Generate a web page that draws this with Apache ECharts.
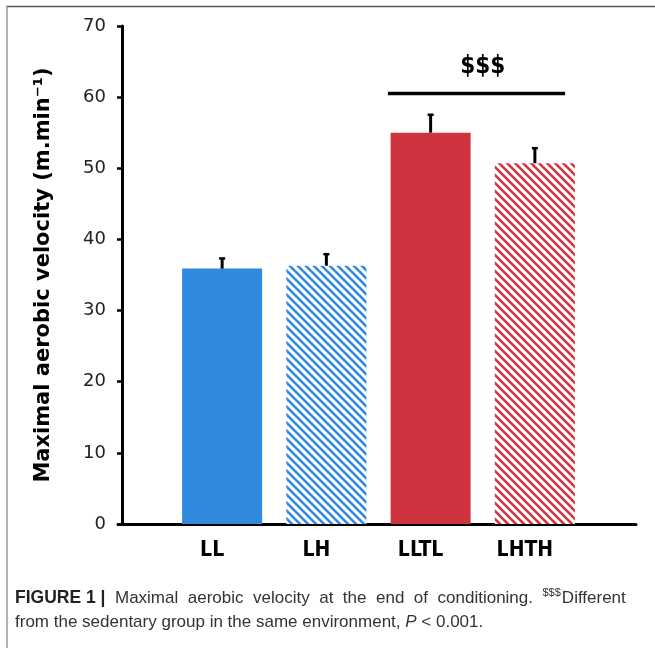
<!DOCTYPE html>
<html>
<head>
<meta charset="utf-8">
<script src="https://cdn.jsdelivr.net/npm/echarts@6/dist/echarts.min.js"></script>
<style>
  html, body { margin: 0; padding: 0; background: #fff; }
  #chart { width: 655px; height: 648px; }
</style>
</head>
<body>
<div id="chart"></div>
<script>
// groups and values
var groups = ['LL', 'LH', 'LLTL', 'LHTH'];
var means = [35.9, 36.3, 55.0, 50.7];
var errors = [1.6, 1.8, 2.7, 2.3];
var hatched = [false, true, false, true];
var groupColors = ['#2f89dc', '#2f89dc', '#cf333f', '#cf333f'];
var yTicks = [0, 10, 20, 30, 40, 50, 60, 70];
// significance bracket: from group index, to group index, level, label
var sigFrom = [2];
var sigTo = [3];
var sigLevel = [60.5];
var sigLabel = ['$$$'];

function hatch(color) {
    var n = 8;
    var c = document.createElement('canvas');
    c.width = n;
    c.height = n;
    var ctx = c.getContext('2d');
    ctx.fillStyle = '#fff';
    ctx.fillRect(0, 0, n, n);
    ctx.strokeStyle = color;
    ctx.lineWidth = 2.6;
    for (var k = -1; k <= 1; k++) {
        ctx.beginPath();
        ctx.moveTo(k * n - 1, -1);
        ctx.lineTo(k * n + n + 1, n + 1);
        ctx.stroke();
    }
    return {image: c, repeat: 'repeat'};
}

var barData = means.map(function (v, i) {
    return {
        value: v,
        itemStyle: {color: hatched[i] ? hatch(groupColors[i]) : groupColors[i]}
    };
});
var errData = means.map(function (v, i) {
    return [i, v, v + errors[i]];
});
var sigData = sigFrom.map(function (f, i) {
    return [f, sigTo[i], sigLevel[i]];
});

// first caption line is justified in the figure, so its spaces are wider
var line1 = 'Maximal aerobic velocity at the end of conditioning.'.split(' ').join('{w| }');
var caption = '{b|FIGURE 1 |}{w| }' + line1 + '{w| }{s|$$$}Different\n' +
    'from the sedentary group in the same environment, {i|P} < 0.001.';

var chart = echarts.init(document.getElementById('chart'));
chart.setOption({
    animation: false,
    backgroundColor: '#fff',
    textStyle: {fontFamily: 'DejaVu Sans'},
    title: {
        left: 15,
        top: 586,
        padding: 0,
        text: caption,
        textStyle: {
            fontFamily: 'Liberation Sans',
            fontSize: 17,
            fontWeight: 'normal',
            color: '#333',
            lineHeight: 24,
            rich: {
                b: {fontFamily: 'Liberation Sans', fontSize: 17.5, fontWeight: 'bold', color: '#222', lineHeight: 24},
                w: {fontFamily: 'Liberation Sans', fontSize: 17, width: 9.5, lineHeight: 24},
                s: {fontFamily: 'Liberation Sans', fontSize: 11, color: '#333', padding: [0, 1, 10, 0], lineHeight: 24},
                i: {fontFamily: 'Liberation Sans', fontSize: 17, fontStyle: 'italic', color: '#333', lineHeight: 24}
            }
        }
    },
    graphic: [
        {type: 'line', shape: {x1: 6, y1: 6.5, x2: 655, y2: 6.5}, style: {stroke: '#555', lineWidth: 1.5}},
        {type: 'line', shape: {x1: 7, y1: 6, x2: 7, y2: 648}, style: {stroke: '#999', lineWidth: 1.5}}
    ],
    grid: [
        {left: 118, right: 19, top: 26, bottom: 124},
        {left: 170, width: 417, top: 26, bottom: 124},
        {left: 122, right: 19, top: 26, bottom: 124}
    ],
    xAxis: [
        {
            gridIndex: 0, type: 'value', min: 0, max: 1,
            axisLine: {show: true, lineStyle: {color: '#000', width: 3}},
            axisTick: {show: false}, axisLabel: {show: false}, splitLine: {show: false}
        },
        {
            gridIndex: 1, type: 'category', data: groups,
            axisLine: {show: false}, axisTick: {show: false},
            axisLabel: {
                margin: 16,
                padding: [0, 20, 0, 0],
                fontFamily: 'DejaVu Sans Condensed',
                fontWeight: 'bold',
                fontSize: 21,
                color: '#000'
            }
        },
        {
            gridIndex: 2, type: 'value', min: 0, max: 1, show: false
        }
    ],
    yAxis: [
        {
            gridIndex: 0, type: 'value', min: 0, max: 70, show: false
        },
        {
            gridIndex: 1, type: 'value', min: 0, max: 70, show: false
        },
        {
            gridIndex: 2, type: 'value', min: 0, max: 70, interval: 10,
            name: 'Maximal aerobic velocity (m.min\u207B\u00B9)',
            nameLocation: 'middle',
            nameGap: 68,
            nameTextStyle: {fontFamily: 'DejaVu Sans', fontWeight: 'bold', fontSize: 21, color: '#000'},
            axisLine: {show: true, lineStyle: {color: '#000', width: 3}},
            axisTick: {show: true, length: 5, lineStyle: {color: '#000', width: 2.5}},
            axisLabel: {
                margin: 16, fontSize: 18, color: '#222',
                formatter: function (v) { return yTicks.indexOf(v) >= 0 ? String(v) : ''; }
            },
            splitLine: {show: false}
        }
    ],
    series: [
        {
            type: 'bar',
            xAxisIndex: 1, yAxisIndex: 1,
            barWidth: 80,
            data: barData
        },
        {
            type: 'custom',
            xAxisIndex: 1, yAxisIndex: 1,
            data: errData,
            z: 5,
            renderItem: function (params, api) {
                var base = api.coord([api.value(0), api.value(1)]);
                var top = api.coord([api.value(0), api.value(2)]);
                return {
                    type: 'group',
                    children: [
                        {type: 'line', shape: {x1: base[0], y1: base[1], x2: top[0], y2: top[1] + 1},
                         style: {stroke: '#000', lineWidth: 3}},
                        {type: 'rect', shape: {x: top[0] - 3, y: top[1], width: 6, height: 2.5},
                         style: {fill: '#000'}}
                    ]
                };
            }
        },
        {
            type: 'custom',
            xAxisIndex: 1, yAxisIndex: 1,
            data: sigData,
            z: 5,
            renderItem: function (params, api) {
                var bw = api.size([1, 0])[0];
                var a = api.coord([api.value(0), api.value(2)]);
                var b = api.coord([api.value(1), api.value(2)]);
                var x1 = a[0] - 0.41 * bw;
                var x2 = b[0] + 0.29 * bw;
                return {
                    type: 'group',
                    children: [
                        {type: 'line', shape: {x1: x1, y1: a[1], x2: x2, y2: a[1]},
                         style: {stroke: '#000', lineWidth: 3.5}},
                        {type: 'text', x: (a[0] + b[0]) / 2, y: a[1] - 27,
                         style: {text: sigLabel[params.dataIndex], fill: '#000', align: 'center',
                                 verticalAlign: 'middle', fontFamily: 'DejaVu Sans Condensed',
                                 fontWeight: 'bold', fontSize: 24}}
                    ]
                };
            }
        }
    ]
});
</script>
</body>
</html>
